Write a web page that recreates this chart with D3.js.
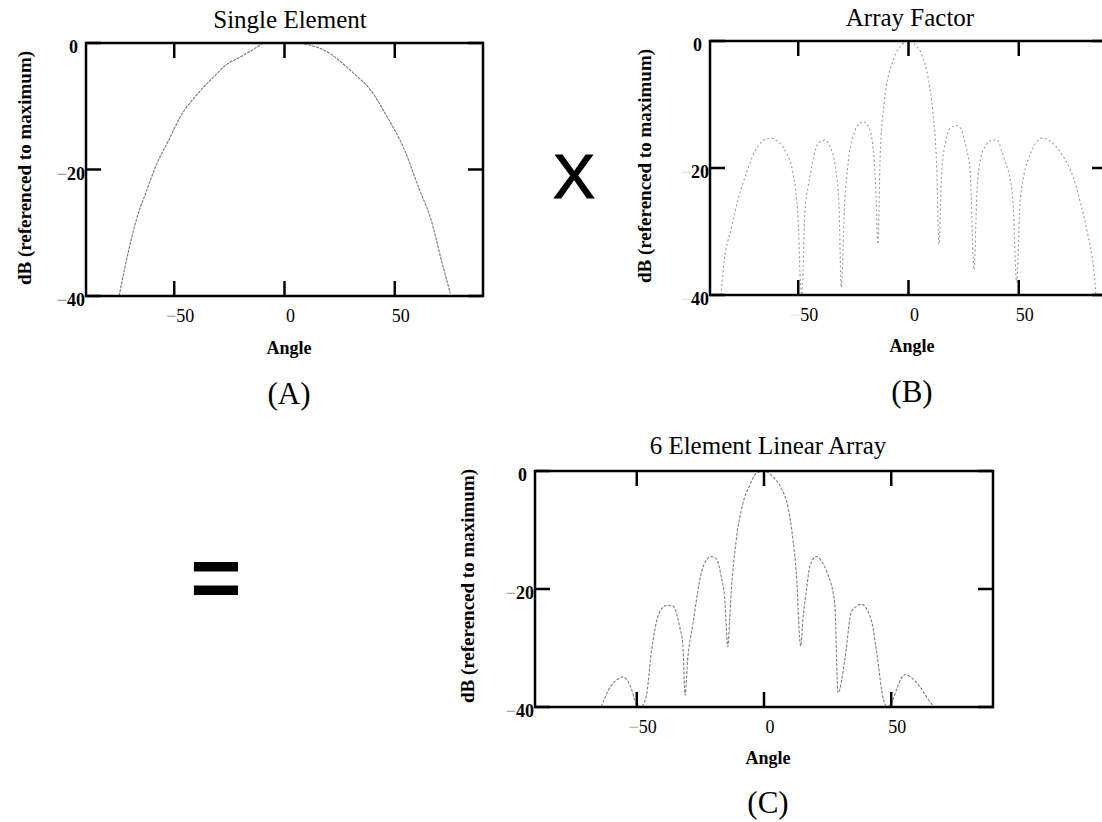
<!DOCTYPE html>
<html>
<head>
<meta charset="utf-8">
<script src="https://cdn.jsdelivr.net/npm/d3@7"></script>
<style>
  body { margin: 0; background: #fff; }
  text { font-family: "Liberation Serif", "Times New Roman", serif; fill: #000; }
</style>
</head>
<body>
<div id="chart"></div>
<script>

var width = 1102,
    height = 822;

// (A) single element pattern, dB vs angle
var angleA = [-75, -70.6, -66.8, -63, -58.5, -52.4, -47.1, -38.8, -32, -26.6, -20, -14.5, -8.5, 0, 6.7, 11, 15.8, 22, 27.9, 33, 38.5, 46.1, 54.4, 61.2, 66.5, 71.1, 75.2];
var dbA    = [-40, -32.7, -27.5, -23.8, -19.6, -15.3, -11.6, -7.8, -5.3, -3.5, -2.2, -1.1, 0, 0, 0, -0.3, -0.8, -2, -3.7, -5.3, -7.2, -11.4, -16.9, -23.2, -28, -34.3, -39.6];

// (B) array factor
var angleB = [-85, -84, -80.3, -77.3, -73.5, -69.7, -66, -62.9, -58.3, -55.3, -52.5, -50, -49.2, -48.3, -47, -45.5, -44.7, -40.9, -37.9, -35.6, -33.3, -31.5, -30.5, -29, -27.3, -25, -23.5, -20.5, -17.5, -15, -13.8, -12.9, -11.1, -6.8, -3, 0, 3, 6.1, 9, 11, 12.8, 13.8, 15, 17, 19, 21.5, 23.5, 26, 28, 29.7, 31, 32.6, 35, 37.9, 40.2, 42, 44, 45.5, 47.5, 49, 50.5, 52.3, 54.5, 56.8, 60.6, 64.4, 69, 75, 78, 81, 84, 85];
var dbB    = [-40, -36, -29.4, -25, -20.8, -17.4, -15.7, -15.3, -16.1, -17.7, -20.6, -28.4, -36.6, -40, -27, -22.9, -21.3, -16.1, -15.6, -16.6, -19.5, -26, -38.8, -26, -19, -15, -13.5, -12.7, -14, -22, -32, -18.7, -9.9, -2.9, -0.6, 0, -0.6, -2.2, -6, -11, -20, -32, -21, -15.5, -13.7, -13.3, -13.7, -16.5, -20.8, -36, -24, -18.7, -16.5, -15.6, -15.6, -17, -19.2, -20.8, -26, -38, -26, -21.2, -18.5, -16.6, -15.3, -15.8, -17.6, -21.8, -25.5, -30, -36, -40];

// (C) 6 element linear array = (A) x (B)
var angleC = [-64, -60.7, -57.5, -55.5, -52.2, -50.9, -48.5, -46.3, -44.3, -42.4, -40.5, -38.4, -35.8, -33.2, -31.9, -31, -30, -28, -24.7, -22.5, -20.7, -18.7, -16.8, -15.5, -14.2, -13.5, -12.8, -10.9, -8.3, -5.6, -3, 0, 3.5, 6.8, 9.5, 11.4, 12.7, 14.4, 15.4, 16.7, 18, 20.6, 22.5, 24.6, 27.8, 29.1, 31.8, 34.4, 38.3, 42.3, 44.3, 46.9, 48.5, 50.5, 52.1, 55.4, 58.7, 62, 65, 67];
var dbC    = [-40, -36.8, -35.3, -34.9, -36.8, -38.7, -40, -38.2, -30.8, -25.8, -23.5, -22.8, -22.9, -26.3, -29.5, -38, -32, -26.1, -17.4, -15, -14.5, -14.9, -17.9, -21.3, -29.8, -25.2, -20.1, -11.7, -5.5, -2.4, -0.4, 0, -1, -2.9, -6.3, -11.7, -17.3, -29.7, -24.6, -20.1, -16.2, -14.5, -15.2, -17, -22.4, -37.6, -31.9, -23.8, -22.6, -25.5, -30.8, -38.7, -40, -39, -37, -34.5, -35.3, -37, -39, -40];

var xTicks = [-50, 0, 50],
    yTicks = [0, -20, -40];

var svg = d3.select("#chart").append("svg")
    .attr("width", width)
    .attr("height", height);

// panel layout (pixel boxes + text anchors)
var panels = [
  { id: "a", title: "Single Element", tag: "(A)", angles: angleA, db: dbA,
    x0: 86, x1: 483, y0: 43, y1: 296,
    titleX: 290, titleY: 28, yLabX: 31, yLabY: 168, angX: 289, angY: 354, tagX: 289, tagY: 404,
    minus: "#999", stroke: "#777", dash: "3,1" },
  { id: "b", title: "Array Factor", tag: "(B)", angles: angleB, db: dbB,
    x0: 710, x1: 1107, y0: 41, y1: 295,
    titleX: 910, titleY: 26, yLabX: 651, yLabY: 166, angX: 912, angY: 352, tagX: 912, tagY: 402,
    minus: "#e2e2e2", stroke: "#9a9a9a", dash: "2,2.5" },
  { id: "c", title: "6 Element Linear Array", tag: "(C)", angles: angleC, db: dbC,
    x0: 535, x1: 993, y0: 471, y1: 707,
    titleX: 768, titleY: 454, yLabX: 474, yLabY: 586, angX: 768, angY: 764, tagX: 768, tagY: 813,
    minus: "#aaa", stroke: "#808080", dash: "3,1.5" }
];

panels.forEach(drawPanel);

// operators between the panels
svg.append("text")
    .attr("x", 574)
    .attr("y", 198)
    .attr("text-anchor", "middle")
    .style("font-family", "'Liberation Sans', Arial, sans-serif")
    .style("font-size", "63px")
    .style("stroke", "#000")
    .style("stroke-width", "1.2px")
    .text("X");

svg.append("text")
    .attr("x", 216)
    .attr("y", 607)
    .attr("text-anchor", "middle")
    .style("font-family", "'Liberation Sans', Arial, sans-serif")
    .style("font-weight", "bold")
    .style("font-size", "88px")
    .text("=");


function tickText(sel, v, minusColor) {
  if (v < 0) sel.append("tspan").style("fill", minusColor).text("\u2212");
  sel.append("tspan").text(Math.abs(v));
}

function drawPanel(p) {
  var x = d3.scaleLinear().domain([-90, 90]).range([p.x0, p.x1]);
  var y = d3.scaleLinear().domain([-40, 0]).range([p.y1, p.y0]);

  var g = svg.append("g").attr("class", "panel-" + p.id);

  g.append("clipPath").attr("id", "clip-" + p.id)
    .append("rect")
      .attr("x", p.x0).attr("y", p.y0)
      .attr("width", p.x1 - p.x0).attr("height", p.y1 - p.y0);

  // pattern curve
  var line = d3.line()
      .x(function(d) { return x(d[0]); })
      .y(function(d) { return y(d[1]); })
      .curve(d3.curveMonotoneX);

  g.append("path")
      .datum(d3.zip(p.angles, p.db))
      .attr("clip-path", "url(#clip-" + p.id + ")")
      .attr("d", line)
      .attr("fill", "none")
      .attr("stroke", p.stroke)
      .attr("stroke-width", 1.1)
      .attr("stroke-dasharray", p.dash);

  // frame
  g.append("rect")
      .attr("x", p.x0).attr("y", p.y0)
      .attr("width", p.x1 - p.x0).attr("height", p.y1 - p.y0)
      .attr("fill", "none")
      .attr("stroke", "#000")
      .attr("stroke-width", 2.5);

  // inward ticks
  var tk = 15;
  xTicks.forEach(function(v) {
    g.append("line").attr("x1", x(v)).attr("x2", x(v)).attr("y1", p.y0).attr("y2", p.y0 + tk)
      .attr("stroke", "#000").attr("stroke-width", 2.5);
    g.append("line").attr("x1", x(v)).attr("x2", x(v)).attr("y1", p.y1).attr("y2", p.y1 - tk)
      .attr("stroke", "#000").attr("stroke-width", 2.5);
  });
  yTicks.forEach(function(v) {
    g.append("line").attr("x1", p.x0).attr("x2", p.x0 + tk).attr("y1", y(v)).attr("y2", y(v))
      .attr("stroke", "#000").attr("stroke-width", 2.5);
    g.append("line").attr("x1", p.x1).attr("x2", p.x1 - tk).attr("y1", y(v)).attr("y2", y(v))
      .attr("stroke", "#000").attr("stroke-width", 2.5);
  });

  // tick labels
  g.selectAll(".xlab")
      .data(xTicks)
    .enter().append("text")
      .attr("class", "xlab")
      .attr("x", function(d) { return x(d) + 6; })
      .attr("y", p.y1 + 26)
      .attr("text-anchor", "middle")
      .style("font-size", "18px")
      .each(function(d) { tickText(d3.select(this), d, p.minus); });

  g.selectAll(".ylab")
      .data(yTicks)
    .enter().append("text")
      .attr("class", "ylab")
      .attr("x", function(d) { return d === 0 ? p.x0 - 8 : p.x0 - 1; })
      .attr("y", function(d) { return y(d) + 10; })
      .attr("text-anchor", "end")
      .style("font-size", "18px")
      .style("font-weight", "bold")
      .each(function(d) { tickText(d3.select(this), d, p.minus); });

  // titles
  g.append("text")
      .attr("x", p.titleX).attr("y", p.titleY)
      .attr("text-anchor", "middle")
      .style("font-size", "25px")
      .text(p.title);

  g.append("text")
      .attr("transform", "translate(" + p.yLabX + "," + p.yLabY + ") rotate(-90)")
      .attr("text-anchor", "middle")
      .style("font-size", "19px")
      .style("font-weight", "bold")
      .text("dB (referenced to maximum)");

  g.append("text")
      .attr("x", p.angX).attr("y", p.angY)
      .attr("text-anchor", "middle")
      .style("font-size", "18px")
      .style("font-weight", "bold")
      .text("Angle");

  g.append("text")
      .attr("x", p.tagX).attr("y", p.tagY)
      .attr("text-anchor", "middle")
      .style("font-size", "31px")
      .text(p.tag);
}

</script>
</body>
</html>
